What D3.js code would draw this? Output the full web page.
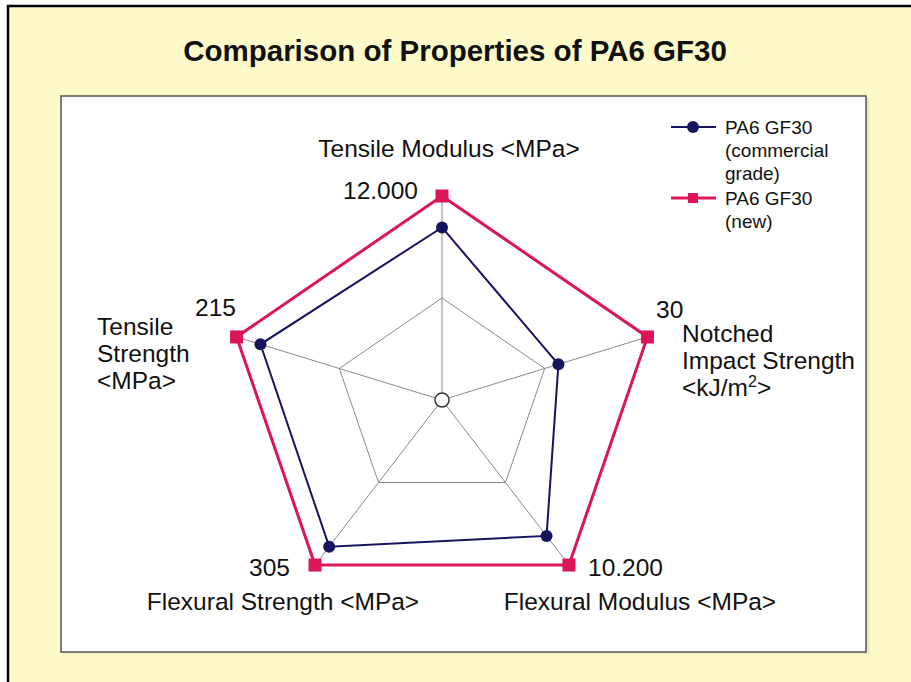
<!DOCTYPE html>
<html>
<head>
<meta charset="utf-8">
<script src="https://cdn.jsdelivr.net/npm/d3@7"></script>
<style>
  body { margin: 0; background: #fff; }
  text { font-family: "Liberation Sans", Arial, sans-serif; fill: #111; }
</style>
</head>
<body>
<div id="chart"></div>
<script>
// Data
const axisNames = ['Tensile Modulus', 'Notched Impact Strength', 'Flexural Modulus', 'Flexural Strength', 'Tensile Strength'];
const axisMax = [12000, 30, 10200, 305, 215];
const tickLabels = ['12.000', '30', '10.200', '305', '215'];
const commercial = [10150, 17, 8400, 271, 190];
const newGrade = [12000, 30, 10200, 305, 215];
const seriesNames = [['PA6 GF30', '(commercial', 'grade)'], ['PA6 GF30', '(new)']];

const width = 911;
const height = 682;

const svg = d3.select('#chart')
    .append('svg')
    .attr('width', width)
    .attr('height', height);

// Background frame
svg.append('rect')
    .attr('x', 8).attr('y', 6)
    .attr('width', width + 10).attr('height', height + 10)
    .attr('fill', '#fdf9c9')
    .attr('stroke', '#000')
    .attr('stroke-width', 2.5);

// Title
svg.append('text')
    .attr('x', 455).attr('y', 61)
    .attr('text-anchor', 'middle')
    .attr('font-size', 29.5)
    .attr('font-weight', 'bold')
    .text('Comparison of Properties of PA6 GF30');

// Plot area with a little shadow
svg.append('rect')
    .attr('x', 63).attr('y', 98)
    .attr('width', 806).attr('height', 556)
    .attr('fill', '#e8e4bc');
svg.append('rect')
    .attr('x', 61).attr('y', 96)
    .attr('width', 805).attr('height', 556)
    .attr('fill', '#fff')
    .attr('stroke', '#555')
    .attr('stroke-width', 1.5);

// Scales
const cx = 442, cy = 400;
const x = d3.scaleLinear().domain([-1, 1]).range([cx - 216, cx + 216]);
const y = d3.scaleLinear().domain([-1, 1]).range([cy - 204, cy + 204]);
const angle = d3.scaleLinear().domain([0, axisNames.length]).range([-Math.PI / 2, 1.5 * Math.PI]);
const rScales = axisMax.map(m => d3.scaleLinear().domain([0, m]).range([0, 1]));

const pt = (i, r) => [x(r * Math.cos(angle(i))), y(r * Math.sin(angle(i)))];

// Grid
const grid = svg.append('g').attr('stroke', '#8a8a8a').attr('stroke-width', 1).attr('fill', 'none');
[0.5, 1].forEach(lvl => {
    grid.append('path')
        .attr('d', d3.line()(axisNames.map((d, i) => pt(i, lvl))) + 'Z');
});
grid.selectAll('line')
    .data(axisNames)
    .enter()
    .append('line')
    .attr('x1', cx).attr('y1', cy)
    .attr('x2', (d, i) => pt(i, 1)[0])
    .attr('y2', (d, i) => pt(i, 1)[1]);

// Series
const series = [
    { values: commercial, color: '#16145e', width: 2, marker: 'circle' },
    { values: newGrade, color: '#dc1458', width: 3, marker: 'square' }
];

series.forEach(s => {
    const pts = s.values.map((v, i) => pt(i, rScales[i](v)));
    svg.append('path')
        .attr('d', d3.line()(pts) + 'Z')
        .attr('fill', 'none')
        .attr('stroke', s.color)
        .attr('stroke-width', s.width);
    if (s.marker === 'circle') {
        svg.selectAll(null)
            .data(pts)
            .enter()
            .append('circle')
            .attr('cx', d => d[0]).attr('cy', d => d[1])
            .attr('r', 6)
            .attr('fill', s.color);
    } else {
        svg.selectAll(null)
            .data(pts)
            .enter()
            .append('rect')
            .attr('x', d => d[0] - 6.5).attr('y', d => d[1] - 6.5)
            .attr('width', 13).attr('height', 13)
            .attr('fill', s.color);
    }
});

// Center marker
svg.append('circle')
    .attr('cx', cx).attr('cy', cy).attr('r', 7)
    .attr('fill', '#fff')
    .attr('stroke', '#333')
    .attr('stroke-width', 1.5);

// Max value labels
const tickPos = [
    { x: 418, y: 199, anchor: 'end' },
    { x: 656, y: 318, anchor: 'start' },
    { x: 588, y: 576, anchor: 'start' },
    { x: 290, y: 576, anchor: 'end' },
    { x: 195, y: 316, anchor: 'start' }
];
svg.selectAll('.tick-label')
    .data(tickLabels)
    .enter()
    .append('text')
    .attr('class', 'tick-label')
    .attr('x', (d, i) => tickPos[i].x)
    .attr('y', (d, i) => tickPos[i].y)
    .attr('text-anchor', (d, i) => tickPos[i].anchor)
    .attr('font-size', 24.5)
    .text(d => d);

// Axis labels
const labelSize = 24.5;
function multiLine(lines, lx, ly, anchor, step) {
    const t = svg.append('text')
        .attr('x', lx).attr('y', ly)
        .attr('text-anchor', anchor)
        .attr('font-size', labelSize);
    lines.forEach((l, i) => {
        const ts = t.append('tspan').attr('x', lx).attr('dy', i === 0 ? 0 : step);
        if (l === '<kJ/m2>') {
            ts.text('<kJ/m');
            t.append('tspan').attr('dy', -9).attr('font-size', 16).text('2');
            t.append('tspan').attr('dy', 9).text('>');
        } else {
            ts.text(l);
        }
    });
}
multiLine([axisNames[0] + ' <MPa>'], 449, 157, 'middle', 0);
multiLine(['Notched', 'Impact Strength', '<kJ/m2>'], 682, 342, 'start', 27);
multiLine([axisNames[2] + ' <MPa>'], 640, 610, 'middle', 0);
multiLine([axisNames[3] + ' <MPa>'], 283, 610, 'middle', 0);
multiLine(['Tensile', 'Strength', '<MPa>'], 97, 335, 'start', 27);

// Legend
const legend = svg.append('g');
series.forEach((s, k) => {
    const ly = k === 0 ? 127 : 198;
    legend.append('line')
        .attr('x1', 671).attr('x2', 716)
        .attr('y1', ly).attr('y2', ly)
        .attr('stroke', s.color)
        .attr('stroke-width', s.width);
    if (s.marker === 'circle') {
        legend.append('circle').attr('cx', 693).attr('cy', ly).attr('r', 6).attr('fill', s.color);
    } else {
        legend.append('rect').attr('x', 688).attr('y', ly - 5).attr('width', 10).attr('height', 10).attr('fill', s.color);
    }
    const t = legend.append('text').attr('x', 725).attr('y', ly + 7).attr('font-size', 19);
    seriesNames[k].forEach((l, i) => {
        t.append('tspan').attr('x', 725).attr('dy', i === 0 ? 0 : 23).text(l);
    });
});
</script>
</body>
</html>
